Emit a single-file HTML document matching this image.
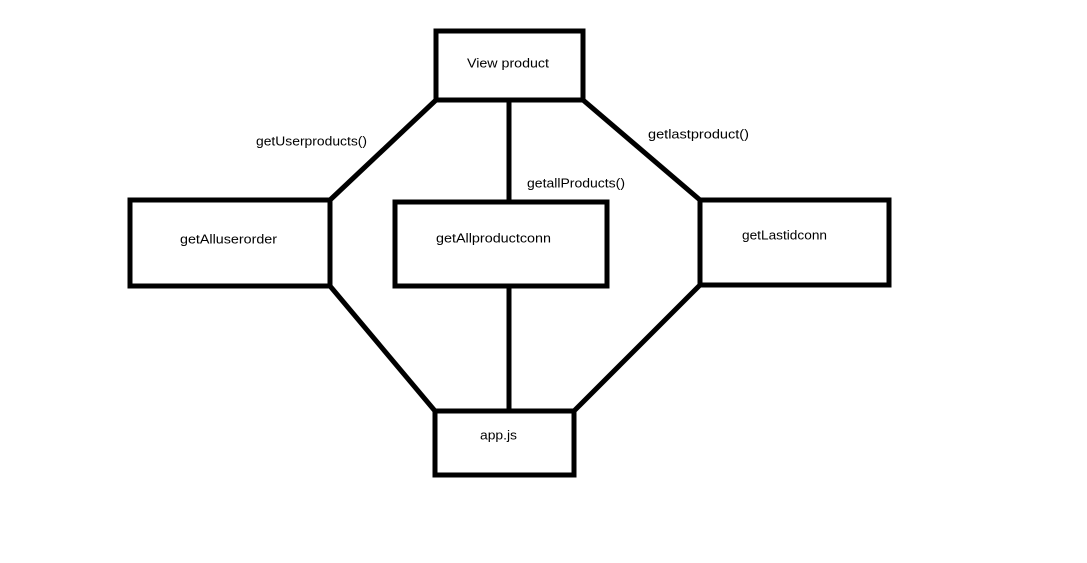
<!DOCTYPE html>
<html><head><meta charset="utf-8"><style>html,body{margin:0;padding:0;background:#fff;}svg{display:block}</style></head>
<body>
<svg width="1087" height="563" viewBox="0 0 1087 563" xmlns="http://www.w3.org/2000/svg">
<g fill="none" stroke="#000" stroke-width="5">
<rect x="436" y="31" width="147" height="69"/>
<rect x="130" y="200" width="200" height="86"/>
<rect x="395" y="202" width="212" height="84"/>
<rect x="700" y="200" width="189" height="85"/>
<rect x="435" y="411" width="139" height="64"/>
<line x1="509" y1="100" x2="509" y2="202"/>
<line x1="509" y1="286" x2="509" y2="411"/>
<line x1="436" y1="100" x2="330" y2="200"/>
<line x1="583" y1="100" x2="700" y2="200"/>
<line x1="330" y1="286" x2="435" y2="411"/>
<line x1="700" y1="285" x2="574" y2="411"/>
</g>
<g font-family="Liberation Sans, sans-serif" font-size="13" fill="#000" dominant-baseline="middle">
<text x="467" y="64" textLength="82" lengthAdjust="spacingAndGlyphs">View product</text>
<text x="256" y="142" textLength="111" lengthAdjust="spacingAndGlyphs">getUserproducts()</text>
<text x="648" y="135" textLength="101" lengthAdjust="spacingAndGlyphs">getlastproduct()</text>
<text x="527" y="184" textLength="98" lengthAdjust="spacingAndGlyphs">getallProducts()</text>
<text x="180" y="240" textLength="97" lengthAdjust="spacingAndGlyphs">getAlluserorder</text>
<text x="436" y="239" textLength="115" lengthAdjust="spacingAndGlyphs">getAllproductconn</text>
<text x="742" y="236" textLength="85" lengthAdjust="spacingAndGlyphs">getLastidconn</text>
<text x="480" y="436" textLength="37" lengthAdjust="spacingAndGlyphs">app.js</text>
</g>
</svg>
</body></html>
